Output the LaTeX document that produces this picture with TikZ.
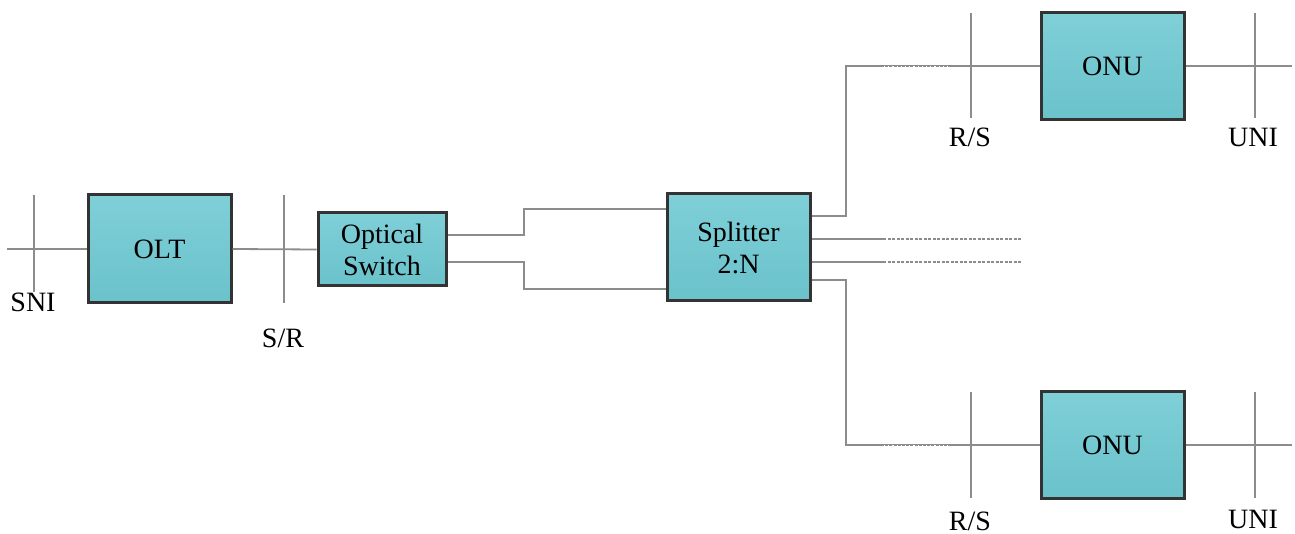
\documentclass[tikz,border=0pt]{standalone}
\usepackage{fontspec}
\setmainfont{Liberation Serif}
\definecolor{boxtop}{HTML}{7FCFD7}
\definecolor{boxbot}{HTML}{6AC2CB}
\definecolor{boxedge}{HTML}{333333}
\definecolor{wire}{HTML}{8C8C8C}
\tikzset{
  unitbox/.style={draw=boxedge, line width=3pt, top color=boxtop, bottom color=boxbot,
    align=center, font=\fontsize{28}{32}\selectfont, inner sep=0pt},
  wireline/.style={draw=wire, line width=1.8pt},
  refline/.style={draw=wire, line width=1.8pt},
  dotpart/.style={draw=wire, line width=1.2pt, dash pattern=on 3pt off 1.5pt},
  gapmark/.style={draw=white, line width=0.7pt, dash pattern=on 1.2pt off 3pt},
  reflabel/.style={font=\fontsize{28}{32}\selectfont, inner sep=0pt}
}
\begin{document}
\begin{tikzpicture}[x=1pt,y=-1pt]
\useasboundingbox (0,0) rectangle (1295,534);
% boxes
\node[unitbox, minimum width=143pt, minimum height=108pt] (OLT) at (159.5,249) {OLT};
\node[unitbox, minimum width=128pt, minimum height=73pt] (SW) at (382,249.5) {Optical\\Switch};
\node[unitbox, minimum width=143pt, minimum height=107pt] (SPL) at (738.5,247.5) {Splitter\\2:N};
\node[unitbox, minimum width=143pt, minimum height=107pt] (ONUa) at (1112.5,66) {ONU};
\node[unitbox, minimum width=143pt, minimum height=107pt] (ONUb) at (1112.5,445) {ONU};
% helper coordinates
\coordinate (sniL) at (7,249);
\coordinate (ya) at (0,235);
\coordinate (yb) at (0,262);
\coordinate (yc) at (0,209);
\coordinate (yd) at (0,289);
\coordinate (ye) at (0,216);
\coordinate (yf) at (0,239);
\coordinate (yg) at (0,262);
\coordinate (yh) at (0,280);
\coordinate (jA) at (524,235);
\coordinate (jB) at (524,262);
\coordinate (jC) at (846,216);
\coordinate (jD) at (846,280);
\coordinate (mA) at (883,239);
\coordinate (mB) at (883,262);
\coordinate (eA) at (1021,239);
\coordinate (eB) at (1021,262);
\coordinate (uA) at (1292,66);
\coordinate (uB) at (1292,445);
% reference lines
\draw[refline] (34,195) -- (34,292);
\draw[refline] (284,195) -- (284,303);
\draw[refline] (971,13) -- (971,118);
\draw[refline] (1255,13) -- (1255,118);
\draw[refline] (971,392) -- (971,498);
\draw[refline] (1255,392) -- (1255,498);
% connectors
\draw[wireline] (sniL) -- (sniL -| OLT.west);
\draw[wireline] (OLT.east) -- (SW.west);
\draw[wireline] (SW.east |- ya) -- (jA) -- (jA |- yc) -- (SPL.west |- yc);
\draw[wireline] (SW.east |- yb) -- (jB) -- (jB |- yd) -- (SPL.west |- yd);
\draw[wireline] (SPL.east |- ye) -- (jC) |- (ONUa.west);
\draw[wireline] (SPL.east |- yh) -- (jD) |- (ONUb.west);
\draw[wireline] (SPL.east |- yf) -- (mA);
\draw[wireline] (SPL.east |- yg) -- (mB);
\draw[dotpart] (mA) -- (eA);
\draw[dotpart] (mB) -- (eB);
\draw[wireline] (ONUa.east) -- (uA);
\draw[wireline] (ONUb.east) -- (uB);
\draw[gapmark] (884,66) -- (950,66);
\draw[gapmark] (884,445) -- (950,445);
% labels
\node[reflabel] (lSNI) at (33,302) {SNI};
\node[reflabel] (lSR) at (283,338) {S/R};
\node[reflabel] (lRSa) at (970,137) {R/S};
\node[reflabel] (lUNIa) at (1253,137) {UNI};
\node[reflabel] (lRSb) at (970,521) {R/S};
\node[reflabel] (lUNIb) at (1253,519) {UNI};
\end{tikzpicture}
\end{document}
